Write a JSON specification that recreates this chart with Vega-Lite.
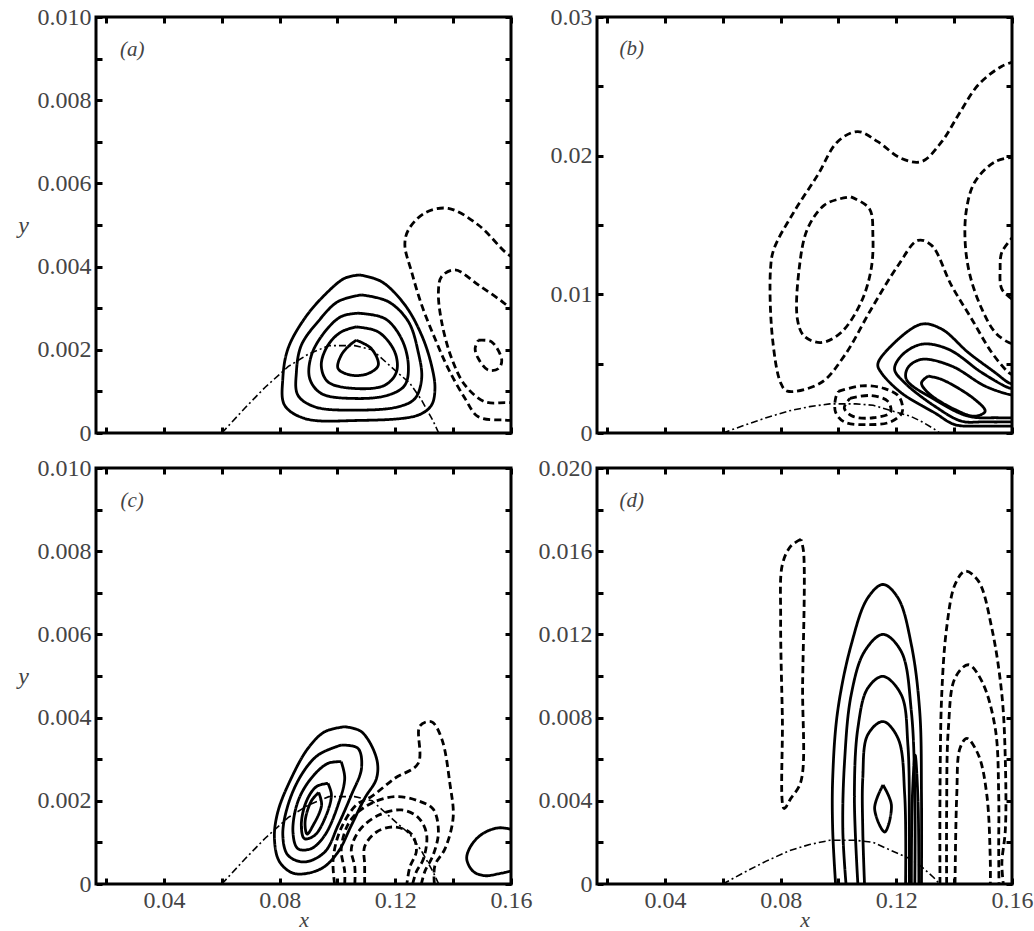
{
 "$schema": "https://vega.github.io/schema/vega-lite/v6.json",
 "background": "white",
 "padding": {"left": 16, "top": 3, "right": 4, "bottom": 0},
 "config": {
  "view": {"stroke": "black", "strokeWidth": 3},
  "axis": {"domain": false, "grid": false, "tickColor": "black", "tickWidth": 3, "tickSize": -6, "labelFont": "Liberation Serif", "labelFontSize": 24, "labelColor": "#444", "labelPadding": 10, "labelOverlap": false, "labelFlush": false, "labelBound": false, "titleFont": "Liberation Serif", "titleFontSize": 24, "titleFontStyle": "italic", "titleFontWeight": "normal", "titleColor": "#444"},
  "axisLeft": {"labelPadding": 11}
 },
 "datasets": {
  "hump": [
   {"x":0.06,"y":0},{"x":0.068,"y":0.0006},{"x":0.075,"y":0.0011},{"x":0.083,"y":0.0016},{"x":0.09,"y":0.0019},{"x":0.097,"y":0.0021},{"x":0.106,"y":0.0021},{"x":0.112,"y":0.002},{"x":0.12,"y":0.0015},{"x":0.125,"y":0.0012},{"x":0.129,"y":0.0008},{"x":0.133,"y":0.0003},{"x":0.135,"y":0}
  ],
  "a": [
   {"c":"a1","s":"S","x":0.1077,"y":0.0038},{"c":"a1","s":"S","x":0.1152,"y":0.00364},{"c":"a1","s":"S","x":0.1233,"y":0.00308},{"c":"a1","s":"S","x":0.1291,"y":0.00235},{"c":"a1","s":"S","x":0.1325,"y":0.00163},{"c":"a1","s":"S","x":0.1337,"y":0.00107},{"c":"a1","s":"S","x":0.1325,"y":0.00067},{"c":"a1","s":"S","x":0.1279,"y":0.00043},{"c":"a1","s":"S","x":0.106,"y":0.0003},{"c":"a1","s":"S","x":0.0886,"y":0.00035},{"c":"a1","s":"S","x":0.0817,"y":0.00067},{"c":"a1","s":"S","x":0.0811,"y":0.00131},{"c":"a1","s":"S","x":0.0829,"y":0.00203},{"c":"a1","s":"S","x":0.0886,"y":0.00275},{"c":"a1","s":"S","x":0.0956,"y":0.00332},{"c":"a1","s":"S","x":0.1025,"y":0.00372},{"c":"a1","s":"S","x":0.1077,"y":0.0038},
   {"c":"a2","s":"S","x":0.1083,"y":0.00332},{"c":"a2","s":"S","x":0.1175,"y":0.00316},{"c":"a2","s":"S","x":0.1245,"y":0.00268},{"c":"a2","s":"S","x":0.1279,"y":0.00195},{"c":"a2","s":"S","x":0.1291,"y":0.00131},{"c":"a2","s":"S","x":0.1268,"y":0.00083},{"c":"a2","s":"S","x":0.121,"y":0.00063},{"c":"a2","s":"S","x":0.106,"y":0.00055},{"c":"a2","s":"S","x":0.0921,"y":0.00063},{"c":"a2","s":"S","x":0.0863,"y":0.00091},{"c":"a2","s":"S","x":0.0858,"y":0.00147},{"c":"a2","s":"S","x":0.0875,"y":0.00211},{"c":"a2","s":"S","x":0.0933,"y":0.00268},{"c":"a2","s":"S","x":0.1002,"y":0.00316},{"c":"a2","s":"S","x":0.1083,"y":0.00332},
   {"c":"a3","s":"S","x":0.1071,"y":0.00288},{"c":"a3","s":"S","x":0.1164,"y":0.00275},{"c":"a3","s":"S","x":0.1221,"y":0.00227},{"c":"a3","s":"S","x":0.1245,"y":0.00163},{"c":"a3","s":"S","x":0.1233,"y":0.00115},{"c":"a3","s":"S","x":0.1175,"y":0.00091},{"c":"a3","s":"S","x":0.106,"y":0.00083},{"c":"a3","s":"S","x":0.0944,"y":0.00095},{"c":"a3","s":"S","x":0.0904,"y":0.00131},{"c":"a3","s":"S","x":0.091,"y":0.00187},{"c":"a3","s":"S","x":0.0956,"y":0.00243},{"c":"a3","s":"S","x":0.1013,"y":0.0028},{"c":"a3","s":"S","x":0.1071,"y":0.00288},
   {"c":"a4","s":"S","x":0.1065,"y":0.00255},{"c":"a4","s":"S","x":0.1141,"y":0.00243},{"c":"a4","s":"S","x":0.1198,"y":0.00195},{"c":"a4","s":"S","x":0.1204,"y":0.00147},{"c":"a4","s":"S","x":0.1164,"y":0.00115},{"c":"a4","s":"S","x":0.106,"y":0.00107},{"c":"a4","s":"S","x":0.0967,"y":0.00123},{"c":"a4","s":"S","x":0.0944,"y":0.00163},{"c":"a4","s":"S","x":0.0967,"y":0.00211},{"c":"a4","s":"S","x":0.1013,"y":0.00243},{"c":"a4","s":"S","x":0.1065,"y":0.00255},
   {"c":"a5","s":"S","x":0.1065,"y":0.00223},{"c":"a5","s":"S","x":0.1117,"y":0.00203},{"c":"a5","s":"S","x":0.1141,"y":0.00163},{"c":"a5","s":"S","x":0.1106,"y":0.00143},{"c":"a5","s":"S","x":0.1048,"y":0.00139},{"c":"a5","s":"S","x":0.1002,"y":0.00155},{"c":"a5","s":"S","x":0.1013,"y":0.00187},{"c":"a5","s":"S","x":0.1042,"y":0.00211},{"c":"a5","s":"S","x":0.1065,"y":0.00223},
   {"c":"a6","s":"D","x":0.161,"y":0.0042},{"c":"a6","s":"D","x":0.158,"y":0.00435},{"c":"a6","s":"D","x":0.1487,"y":0.005},{"c":"a6","s":"D","x":0.1383,"y":0.0054},{"c":"a6","s":"D","x":0.1302,"y":0.00529},{"c":"a6","s":"D","x":0.1245,"y":0.00488},{"c":"a6","s":"D","x":0.1233,"y":0.00452},{"c":"a6","s":"D","x":0.1256,"y":0.00388},{"c":"a6","s":"D","x":0.1291,"y":0.00308},{"c":"a6","s":"D","x":0.1337,"y":0.00227},{"c":"a6","s":"D","x":0.1383,"y":0.00155},{"c":"a6","s":"D","x":0.1441,"y":0.00083},{"c":"a6","s":"D","x":0.1487,"y":0.00039},{"c":"a6","s":"D","x":0.158,"y":0.00031},{"c":"a6","s":"D","x":0.161,"y":0.0003},
   {"c":"a7","s":"D","x":0.161,"y":0.0029},{"c":"a7","s":"D","x":0.158,"y":0.0031},{"c":"a7","s":"D","x":0.1487,"y":0.00356},{"c":"a7","s":"D","x":0.1406,"y":0.00392},{"c":"a7","s":"D","x":0.136,"y":0.00376},{"c":"a7","s":"D","x":0.1349,"y":0.0034},{"c":"a7","s":"D","x":0.136,"y":0.00268},{"c":"a7","s":"D","x":0.1395,"y":0.00179},{"c":"a7","s":"D","x":0.1441,"y":0.00115},{"c":"a7","s":"D","x":0.151,"y":0.00075},{"c":"a7","s":"D","x":0.158,"y":0.00073},{"c":"a7","s":"D","x":0.161,"y":0.00073},
   {"c":"a8","s":"D","x":0.1487,"y":0.00223},{"c":"a8","s":"D","x":0.1533,"y":0.00219},{"c":"a8","s":"D","x":0.1568,"y":0.00175},{"c":"a8","s":"D","x":0.1557,"y":0.00155},{"c":"a8","s":"D","x":0.1522,"y":0.00151},{"c":"a8","s":"D","x":0.1487,"y":0.00179},{"c":"a8","s":"D","x":0.1476,"y":0.00203},{"c":"a8","s":"D","x":0.1487,"y":0.00223}
  ],
  "b": [
   {"c":"b1","s":"D","x":0.161,"y":0.0268},{"c":"b1","s":"D","x":0.1565,"y":0.02645},{"c":"b1","s":"D","x":0.1484,"y":0.02512},{"c":"b1","s":"D","x":0.1415,"y":0.02295},{"c":"b1","s":"D","x":0.1357,"y":0.02101},{"c":"b1","s":"D","x":0.1287,"y":0.01957},{"c":"b1","s":"D","x":0.1217,"y":0.0198},{"c":"b1","s":"D","x":0.1136,"y":0.02101},{"c":"b1","s":"D","x":0.1067,"y":0.02174},{"c":"b1","s":"D","x":0.0997,"y":0.02101},{"c":"b1","s":"D","x":0.0928,"y":0.0186},{"c":"b1","s":"D","x":0.0846,"y":0.01594},{"c":"b1","s":"D","x":0.0777,"y":0.01328},{"c":"b1","s":"D","x":0.0765,"y":0.01183},{"c":"b1","s":"D","x":0.0771,"y":0.007},{"c":"b1","s":"D","x":0.08,"y":0.00362},{"c":"b1","s":"D","x":0.0823,"y":0.00302},{"c":"b1","s":"D","x":0.0939,"y":0.00362},{"c":"b1","s":"D","x":0.102,"y":0.00556},{"c":"b1","s":"D","x":0.1113,"y":0.00893},{"c":"b1","s":"D","x":0.1206,"y":0.01208},{"c":"b1","s":"D","x":0.1275,"y":0.01389},{"c":"b1","s":"D","x":0.1322,"y":0.01353},{"c":"b1","s":"D","x":0.1391,"y":0.01063},{"c":"b1","s":"D","x":0.1461,"y":0.00821},{"c":"b1","s":"D","x":0.153,"y":0.0058},{"c":"b1","s":"D","x":0.1589,"y":0.00435},{"c":"b1","s":"D","x":0.161,"y":0.0041},
   {"c":"b2","s":"D","x":0.1043,"y":0.01703},{"c":"b2","s":"D","x":0.1107,"y":0.01618},{"c":"b2","s":"D","x":0.1119,"y":0.01425},{"c":"b2","s":"D","x":0.1113,"y":0.01183},{"c":"b2","s":"D","x":0.1078,"y":0.00942},{"c":"b2","s":"D","x":0.1009,"y":0.00725},{"c":"b2","s":"D","x":0.0939,"y":0.00652},{"c":"b2","s":"D","x":0.0881,"y":0.007},{"c":"b2","s":"D","x":0.0858,"y":0.00821},{"c":"b2","s":"D","x":0.0864,"y":0.01183},{"c":"b2","s":"D","x":0.0893,"y":0.01473},{"c":"b2","s":"D","x":0.0951,"y":0.01643},{"c":"b2","s":"D","x":0.1009,"y":0.01691},{"c":"b2","s":"D","x":0.1043,"y":0.01703},
   {"c":"b3","s":"D","x":0.161,"y":0.0199},{"c":"b3","s":"D","x":0.1542,"y":0.01957},{"c":"b3","s":"D","x":0.1472,"y":0.01812},{"c":"b3","s":"D","x":0.1443,"y":0.01618},{"c":"b3","s":"D","x":0.1438,"y":0.01377},{"c":"b3","s":"D","x":0.1455,"y":0.01135},{"c":"b3","s":"D","x":0.1496,"y":0.00893},{"c":"b3","s":"D","x":0.1542,"y":0.00725},{"c":"b3","s":"D","x":0.1589,"y":0.00652},{"c":"b3","s":"D","x":0.161,"y":0.0064},
   {"c":"b4","s":"D","x":0.161,"y":0.0143},{"c":"b4","s":"D","x":0.1565,"y":0.01304},{"c":"b4","s":"D","x":0.1559,"y":0.01183},{"c":"b4","s":"D","x":0.1565,"y":0.01038},{"c":"b4","s":"D","x":0.161,"y":0.0095},
   {"c":"b5","s":"S","x":0.161,"y":0.0035},{"c":"b5","s":"S","x":0.1589,"y":0.00362},{"c":"b5","s":"S","x":0.1542,"y":0.00435},{"c":"b5","s":"S","x":0.1449,"y":0.0058},{"c":"b5","s":"S","x":0.1357,"y":0.00749},{"c":"b5","s":"S","x":0.1287,"y":0.00785},{"c":"b5","s":"S","x":0.1171,"y":0.00604},{"c":"b5","s":"S","x":0.1136,"y":0.00495},{"c":"b5","s":"S","x":0.1148,"y":0.00435},{"c":"b5","s":"S","x":0.1217,"y":0.0029},{"c":"b5","s":"S","x":0.1333,"y":0.00145},{"c":"b5","s":"S","x":0.1403,"y":0.0006},{"c":"b5","s":"S","x":0.15,"y":0.0005},{"c":"b5","s":"S","x":0.161,"y":0.0005},
   {"c":"b6","s":"S","x":0.161,"y":0.0032},{"c":"b6","s":"S","x":0.1589,"y":0.00326},{"c":"b6","s":"S","x":0.1496,"y":0.00435},{"c":"b6","s":"S","x":0.138,"y":0.00604},{"c":"b6","s":"S","x":0.1287,"y":0.0064},{"c":"b6","s":"S","x":0.1217,"y":0.00556},{"c":"b6","s":"S","x":0.1194,"y":0.00459},{"c":"b6","s":"S","x":0.1229,"y":0.00362},{"c":"b6","s":"S","x":0.1333,"y":0.00193},{"c":"b6","s":"S","x":0.1426,"y":0.00085},{"c":"b6","s":"S","x":0.15,"y":0.0008},{"c":"b6","s":"S","x":0.161,"y":0.0008},
   {"c":"b7","s":"S","x":0.161,"y":0.0027},{"c":"b7","s":"S","x":0.1589,"y":0.00278},{"c":"b7","s":"S","x":0.1507,"y":0.00338},{"c":"b7","s":"S","x":0.1391,"y":0.00483},{"c":"b7","s":"S","x":0.1287,"y":0.00531},{"c":"b7","s":"S","x":0.124,"y":0.00471},{"c":"b7","s":"S","x":0.1235,"y":0.00386},{"c":"b7","s":"S","x":0.1333,"y":0.00241},{"c":"b7","s":"S","x":0.1449,"y":0.00121},{"c":"b7","s":"S","x":0.155,"y":0.0011},{"c":"b7","s":"S","x":0.161,"y":0.0011},
   {"c":"b8","s":"S","x":0.131,"y":0.0041},{"c":"b8","s":"S","x":0.1357,"y":0.00386},{"c":"b8","s":"S","x":0.1472,"y":0.00241},{"c":"b8","s":"S","x":0.1507,"y":0.00157},{"c":"b8","s":"S","x":0.1472,"y":0.00121},{"c":"b8","s":"S","x":0.1403,"y":0.00169},{"c":"b8","s":"S","x":0.131,"y":0.0029},{"c":"b8","s":"S","x":0.1287,"y":0.00362},{"c":"b8","s":"S","x":0.131,"y":0.0041},
   {"c":"b9","s":"D","x":0.1,"y":0.003},{"c":"b9","s":"D","x":0.108,"y":0.0034},{"c":"b9","s":"D","x":0.116,"y":0.0032},{"c":"b9","s":"D","x":0.121,"y":0.0026},{"c":"b9","s":"D","x":0.122,"y":0.0015},{"c":"b9","s":"D","x":0.118,"y":0.0008},{"c":"b9","s":"D","x":0.11,"y":0.0006},{"c":"b9","s":"D","x":0.102,"y":0.0008},{"c":"b9","s":"D","x":0.099,"y":0.0015},{"c":"b9","s":"D","x":0.099,"y":0.0025},{"c":"b9","s":"D","x":0.1,"y":0.003},
   {"c":"b10","s":"D","x":0.104,"y":0.0025},{"c":"b10","s":"D","x":0.111,"y":0.0027},{"c":"b10","s":"D","x":0.117,"y":0.0023},{"c":"b10","s":"D","x":0.118,"y":0.0015},{"c":"b10","s":"D","x":0.112,"y":0.0011},{"c":"b10","s":"D","x":0.105,"y":0.0012},{"c":"b10","s":"D","x":0.102,"y":0.0018},{"c":"b10","s":"D","x":0.104,"y":0.0025}
  ],
  "c": [
   {"c":"c1","s":"S","x":0.1025,"y":0.00378},{"c":"c1","s":"S","x":0.1083,"y":0.00366},{"c":"c1","s":"S","x":0.1135,"y":0.00302},{"c":"c1","s":"S","x":0.1135,"y":0.00254},{"c":"c1","s":"S","x":0.1094,"y":0.00206},{"c":"c1","s":"S","x":0.1048,"y":0.00141},{"c":"c1","s":"S","x":0.1002,"y":0.00077},{"c":"c1","s":"S","x":0.0944,"y":0.00037},{"c":"c1","s":"S","x":0.0852,"y":0.00025},{"c":"c1","s":"S","x":0.08,"y":0.00053},{"c":"c1","s":"S","x":0.0782,"y":0.00109},{"c":"c1","s":"S","x":0.0794,"y":0.00174},{"c":"c1","s":"S","x":0.084,"y":0.00254},{"c":"c1","s":"S","x":0.0898,"y":0.00326},{"c":"c1","s":"S","x":0.0956,"y":0.00366},{"c":"c1","s":"S","x":0.1025,"y":0.00378},
   {"c":"c2","s":"S","x":0.1013,"y":0.00334},{"c":"c2","s":"S","x":0.1071,"y":0.00326},{"c":"c2","s":"S","x":0.1083,"y":0.00278},{"c":"c2","s":"S","x":0.1048,"y":0.00214},{"c":"c2","s":"S","x":0.1002,"y":0.00141},{"c":"c2","s":"S","x":0.0956,"y":0.00077},{"c":"c2","s":"S","x":0.0886,"y":0.00053},{"c":"c2","s":"S","x":0.0829,"y":0.00069},{"c":"c2","s":"S","x":0.0811,"y":0.00117},{"c":"c2","s":"S","x":0.0829,"y":0.0019},{"c":"c2","s":"S","x":0.0875,"y":0.00262},{"c":"c2","s":"S","x":0.0933,"y":0.0031},{"c":"c2","s":"S","x":0.1013,"y":0.00334},
   {"c":"c3","s":"S","x":0.1013,"y":0.00294},{"c":"c3","s":"S","x":0.1025,"y":0.00254},{"c":"c3","s":"S","x":0.1002,"y":0.0019},{"c":"c3","s":"S","x":0.0956,"y":0.00117},{"c":"c3","s":"S","x":0.0909,"y":0.00085},{"c":"c3","s":"S","x":0.0863,"y":0.00085},{"c":"c3","s":"S","x":0.0846,"y":0.00125},{"c":"c3","s":"S","x":0.0863,"y":0.00198},{"c":"c3","s":"S","x":0.0909,"y":0.00254},{"c":"c3","s":"S","x":0.0967,"y":0.0029},{"c":"c3","s":"S","x":0.1013,"y":0.00294},
   {"c":"c4","s":"S","x":0.0967,"y":0.00242},{"c":"c4","s":"S","x":0.0979,"y":0.00214},{"c":"c4","s":"S","x":0.0956,"y":0.00157},{"c":"c4","s":"S","x":0.0921,"y":0.00117},{"c":"c4","s":"S","x":0.0886,"y":0.00109},{"c":"c4","s":"S","x":0.0875,"y":0.00141},{"c":"c4","s":"S","x":0.0892,"y":0.00198},{"c":"c4","s":"S","x":0.0927,"y":0.00234},{"c":"c4","s":"S","x":0.0967,"y":0.00242},
   {"c":"c5","s":"S","x":0.0935,"y":0.0022},{"c":"c5","s":"S","x":0.0945,"y":0.0019},{"c":"c5","s":"S","x":0.0915,"y":0.0014},{"c":"c5","s":"S","x":0.0895,"y":0.0012},{"c":"c5","s":"S","x":0.0888,"y":0.0015},{"c":"c5","s":"S","x":0.091,"y":0.002},{"c":"c5","s":"S","x":0.0935,"y":0.0022},
   {"c":"c6","s":"S","x":0.161,"y":0.0013},{"c":"c6","s":"S","x":0.1557,"y":0.00135},{"c":"c6","s":"S","x":0.15,"y":0.0012},{"c":"c6","s":"S","x":0.146,"y":0.0009},{"c":"c6","s":"S","x":0.1447,"y":0.0006},{"c":"c6","s":"S","x":0.147,"y":0.0003},{"c":"c6","s":"S","x":0.151,"y":0.0002},{"c":"c6","s":"S","x":0.156,"y":0.00025},{"c":"c6","s":"S","x":0.161,"y":0.00033},
   {"c":"c7","s":"D","x":0.099,"y":0},{"c":"c7","s":"D","x":0.0985,"y":0.0006},{"c":"c7","s":"D","x":0.101,"y":0.0013},{"c":"c7","s":"D","x":0.1065,"y":0.0019},{"c":"c7","s":"D","x":0.1117,"y":0.0021},{"c":"c7","s":"D","x":0.1198,"y":0.00254},{"c":"c7","s":"D","x":0.1279,"y":0.0029},{"c":"c7","s":"D","x":0.1285,"y":0.0038},{"c":"c7","s":"D","x":0.1325,"y":0.0039},{"c":"c7","s":"D","x":0.136,"y":0.0035},{"c":"c7","s":"D","x":0.1389,"y":0.0024},{"c":"c7","s":"D","x":0.14,"y":0.0016},{"c":"c7","s":"D","x":0.1372,"y":0.00085},{"c":"c7","s":"D","x":0.1337,"y":0.00045},{"c":"c7","s":"D","x":0.1335,"y":0},
   {"c":"c8","s":"D","x":0.1025,"y":0},{"c":"c8","s":"D","x":0.1025,"y":0.0003},{"c":"c8","s":"D","x":0.1013,"y":0.00085},{"c":"c8","s":"D","x":0.1042,"y":0.0015},{"c":"c8","s":"D","x":0.1106,"y":0.0019},{"c":"c8","s":"D","x":0.1198,"y":0.0021},{"c":"c8","s":"D","x":0.1279,"y":0.002},{"c":"c8","s":"D","x":0.1331,"y":0.0018},{"c":"c8","s":"D","x":0.1349,"y":0.00125},{"c":"c8","s":"D","x":0.1331,"y":0.0007},{"c":"c8","s":"D","x":0.1302,"y":0.0003},{"c":"c8","s":"D","x":0.129,"y":0},
   {"c":"c9","s":"D","x":0.106,"y":0},{"c":"c9","s":"D","x":0.106,"y":0.0004},{"c":"c9","s":"D","x":0.1048,"y":0.00085},{"c":"c9","s":"D","x":0.1077,"y":0.0013},{"c":"c9","s":"D","x":0.1141,"y":0.00165},{"c":"c9","s":"D","x":0.1221,"y":0.00178},{"c":"c9","s":"D","x":0.1279,"y":0.0016},{"c":"c9","s":"D","x":0.1308,"y":0.0012},{"c":"c9","s":"D","x":0.1297,"y":0.0006},{"c":"c9","s":"D","x":0.1273,"y":0.0003},{"c":"c9","s":"D","x":0.126,"y":0},
   {"c":"c10","s":"D","x":0.1094,"y":0},{"c":"c10","s":"D","x":0.1094,"y":0.00045},{"c":"c10","s":"D","x":0.1094,"y":0.0009},{"c":"c10","s":"D","x":0.1135,"y":0.00125},{"c":"c10","s":"D","x":0.1198,"y":0.00137},{"c":"c10","s":"D","x":0.1256,"y":0.0012},{"c":"c10","s":"D","x":0.1273,"y":0.0008},{"c":"c10","s":"D","x":0.125,"y":0.0004},{"c":"c10","s":"D","x":0.124,"y":0}
  ],
  "d": [
   {"c":"d1","s":"D","x":0.087,"y":0.01657},{"c":"d1","s":"D","x":0.0835,"y":0.01624},{"c":"d1","s":"D","x":0.0806,"y":0.01536},{"c":"d1","s":"D","x":0.08,"y":0.01279},{"c":"d1","s":"D","x":0.0806,"y":0.00797},{"c":"d1","s":"D","x":0.0812,"y":0.00363},{"c":"d1","s":"D","x":0.0835,"y":0.00411},{"c":"d1","s":"D","x":0.087,"y":0.00492},{"c":"d1","s":"D","x":0.0876,"y":0.00958},{"c":"d1","s":"D","x":0.0879,"y":0.016},{"c":"d1","s":"D","x":0.087,"y":0.01657},
   {"c":"d2","s":"S","x":0.099,"y":0},{"c":"d2","s":"S","x":0.098,"y":0.0026},{"c":"d2","s":"S","x":0.098,"y":0.00508},{"c":"d2","s":"S","x":0.0997,"y":0.00829},{"c":"d2","s":"S","x":0.1044,"y":0.0115},{"c":"d2","s":"S","x":0.1101,"y":0.01375},{"c":"d2","s":"S","x":0.1154,"y":0.0144},{"c":"d2","s":"S","x":0.1206,"y":0.01375},{"c":"d2","s":"S","x":0.1252,"y":0.0115},{"c":"d2","s":"S","x":0.1281,"y":0.00829},{"c":"d2","s":"S","x":0.1287,"y":0.00428},{"c":"d2","s":"S","x":0.1287,"y":0},
   {"c":"d3","s":"S","x":0.1026,"y":0},{"c":"d3","s":"S","x":0.1015,"y":0.0026},{"c":"d3","s":"S","x":0.1021,"y":0.00588},{"c":"d3","s":"S","x":0.1044,"y":0.0091},{"c":"d3","s":"S","x":0.109,"y":0.01118},{"c":"d3","s":"S","x":0.1154,"y":0.012},{"c":"d3","s":"S","x":0.1217,"y":0.01118},{"c":"d3","s":"S","x":0.1252,"y":0.00829},{"c":"d3","s":"S","x":0.1264,"y":0.00428},{"c":"d3","s":"S","x":0.1264,"y":0},
   {"c":"d4","s":"S","x":0.1067,"y":0},{"c":"d4","s":"S","x":0.1055,"y":0.00428},{"c":"d4","s":"S","x":0.1067,"y":0.00749},{"c":"d4","s":"S","x":0.1101,"y":0.00941},{"c":"d4","s":"S","x":0.1154,"y":0.00998},{"c":"d4","s":"S","x":0.1217,"y":0.0091},{"c":"d4","s":"S","x":0.124,"y":0.00669},{"c":"d4","s":"S","x":0.1245,"y":0.0026},{"c":"d4","s":"S","x":0.1245,"y":0},
   {"c":"d5","s":"S","x":0.109,"y":0},{"c":"d5","s":"S","x":0.1084,"y":0.0026},{"c":"d5","s":"S","x":0.1084,"y":0.00508},{"c":"d5","s":"S","x":0.1101,"y":0.00717},{"c":"d5","s":"S","x":0.1154,"y":0.00781},{"c":"d5","s":"S","x":0.1206,"y":0.007},{"c":"d5","s":"S","x":0.1229,"y":0.00428},{"c":"d5","s":"S","x":0.1232,"y":0},
   {"c":"d6","s":"S","x":0.1154,"y":0.00476},{"c":"d6","s":"S","x":0.1183,"y":0.00379},{"c":"d6","s":"S","x":0.116,"y":0.0025},{"c":"d6","s":"S","x":0.1125,"y":0.00363},{"c":"d6","s":"S","x":0.1154,"y":0.00476},
   {"c":"d7","s":"S","x":0.1252,"y":0},{"c":"d7","s":"S","x":0.1255,"y":0.004},{"c":"d7","s":"S","x":0.1265,"y":0.0062},{"c":"d7","s":"S","x":0.1275,"y":0.004},{"c":"d7","s":"S","x":0.1278,"y":0},
   {"c":"d8","s":"D","x":0.1351,"y":0},{"c":"d8","s":"D","x":0.1351,"y":0.00428},{"c":"d8","s":"D","x":0.1357,"y":0.0091},{"c":"d8","s":"D","x":0.1374,"y":0.01231},{"c":"d8","s":"D","x":0.1403,"y":0.0144},{"c":"d8","s":"D","x":0.1438,"y":0.01504},{"c":"d8","s":"D","x":0.1484,"y":0.01456},{"c":"d8","s":"D","x":0.153,"y":0.01231},{"c":"d8","s":"D","x":0.1565,"y":0.0091},{"c":"d8","s":"D","x":0.1577,"y":0.00588},{"c":"d8","s":"D","x":0.1577,"y":0.0026},{"c":"d8","s":"D","x":0.1565,"y":0.001},{"c":"d8","s":"D","x":0.157,"y":0},
   {"c":"d9","s":"D","x":0.1374,"y":0},{"c":"d9","s":"D","x":0.1374,"y":0.00347},{"c":"d9","s":"D","x":0.138,"y":0.00749},{"c":"d9","s":"D","x":0.1403,"y":0.0099},{"c":"d9","s":"D","x":0.1449,"y":0.01054},{"c":"d9","s":"D","x":0.1496,"y":0.00974},{"c":"d9","s":"D","x":0.1542,"y":0.00749},{"c":"d9","s":"D","x":0.1554,"y":0.00428},{"c":"d9","s":"D","x":0.1554,"y":0.0017},{"c":"d9","s":"D","x":0.1555,"y":0},
   {"c":"d10","s":"D","x":0.1403,"y":0},{"c":"d10","s":"D","x":0.1409,"y":0.00428},{"c":"d10","s":"D","x":0.142,"y":0.00652},{"c":"d10","s":"D","x":0.1444,"y":0.007},{"c":"d10","s":"D","x":0.1484,"y":0.0062},{"c":"d10","s":"D","x":0.1513,"y":0.00428},{"c":"d10","s":"D","x":0.1525,"y":0.00106},{"c":"d10","s":"D","x":0.1525,"y":0}
  ]
 },
 "columns": 2,
 "spacing": {"row": 35, "column": 86},
 "bounds": "flush",
 "concat": [
   {"width": 415, "height": 416,
    "resolve": {"axis": {"x": "independent", "y": "independent"}},
    "layer": [
     {"data": {"name": "a"},
      "mark": {"type": "line", "clip": true, "interpolate": "catmull-rom", "strokeWidth": 2.8, "color": "black"},
      "encoding": {
       "x": {"field": "x", "type": "quantitative", "scale": {"domain": [0.0165, 0.16], "nice": false, "zero": false}, "axis": {"orient": "bottom", "values": [0.02,0.04,0.06,0.08,0.1,0.12,0.14,0.16], "labels": false, "title": null}},
       "y": {"field": "y", "type": "quantitative", "scale": {"domain": [0, 0.01], "nice": false}, "axis": {"orient": "left", "values": [0,0.001,0.002,0.003,0.004,0.005,0.006,0.007,0.008,0.009,0.01], "labelExpr": "datum.value == 0 ? '0' : (round(datum.value*1000) % 2 == 0 ? format(datum.value, '.3f') : '')", "title": "y", "titleAngle": 0, "titleAlign": "center", "titleBaseline": "middle", "titlePadding": 14}},
       "detail": {"field": "c", "type": "nominal"},
       "order": {"value": null},
       "strokeDash": {"field": "s", "type": "nominal", "scale": {"domain": ["S", "D"], "range": [[1, 0], [7, 4]]}, "legend": null}
      }},
     {"data": {"name": "hump"},
      "mark": {"type": "line", "clip": true, "strokeWidth": 1.6, "strokeDash": [7, 3, 2, 3], "color": "black"},
      "encoding": {
       "x": {"field": "x", "type": "quantitative", "axis": {"orient": "top", "values": [0.02,0.04,0.06,0.08,0.1,0.12,0.14,0.16], "labels": false, "title": null}},
       "y": {"field": "y", "type": "quantitative", "axis": {"orient": "right", "values": [0,0.001,0.002,0.003,0.004,0.005,0.006,0.007,0.008,0.009,0.01], "labels": false, "title": null}},
       "order": {"value": null}
      }},
     {"data": {"values": [{"x": 0.029, "y": 0.0092, "t": "(a)"}]},
      "mark": {"type": "text", "font": "Liberation Serif", "fontSize": 21, "fontStyle": "italic", "color": "#444"},
      "encoding": {"x": {"field": "x", "type": "quantitative", "axis": null}, "y": {"field": "y", "type": "quantitative", "axis": null}, "text": {"field": "t"}}}
    ]},
   {"width": 415, "height": 416,
    "resolve": {"axis": {"x": "independent", "y": "independent"}},
    "layer": [
     {"data": {"name": "b"},
      "mark": {"type": "line", "clip": true, "interpolate": "catmull-rom", "strokeWidth": 2.8, "color": "black"},
      "encoding": {
       "x": {"field": "x", "type": "quantitative", "scale": {"domain": [0.0165, 0.16], "nice": false, "zero": false}, "axis": {"orient": "bottom", "values": [0.02,0.04,0.06,0.08,0.1,0.12,0.14,0.16], "labels": false, "title": null}},
       "y": {"field": "y", "type": "quantitative", "scale": {"domain": [0, 0.03], "nice": false}, "axis": {"orient": "left", "values": [0,0.005,0.01,0.015,0.02,0.025,0.03], "labelExpr": "datum.value == 0 ? '0' : (round(datum.value*1000) % 10 == 0 ? format(datum.value, '.2f') : '')", "title": null}},
       "detail": {"field": "c", "type": "nominal"},
       "order": {"value": null},
       "strokeDash": {"field": "s", "type": "nominal", "scale": {"domain": ["S", "D"], "range": [[1, 0], [7, 4]]}, "legend": null}
      }},
     {"data": {"name": "hump"},
      "mark": {"type": "line", "clip": true, "strokeWidth": 1.6, "strokeDash": [7, 3, 2, 3], "color": "black"},
      "encoding": {
       "x": {"field": "x", "type": "quantitative", "axis": {"orient": "top", "values": [0.02,0.04,0.06,0.08,0.1,0.12,0.14,0.16], "labels": false, "title": null}},
       "y": {"field": "y", "type": "quantitative", "axis": {"orient": "right", "values": [0,0.005,0.01,0.015,0.02,0.025,0.03], "labels": false, "title": null}},
       "order": {"value": null}
      }},
     {"data": {"values": [{"x": 0.0285, "y": 0.0277, "t": "(b)"}]},
      "mark": {"type": "text", "font": "Liberation Serif", "fontSize": 21, "fontStyle": "italic", "color": "#444"},
      "encoding": {"x": {"field": "x", "type": "quantitative", "axis": null}, "y": {"field": "y", "type": "quantitative", "axis": null}, "text": {"field": "t"}}}
    ]},
   {"width": 415, "height": 416,
    "resolve": {"axis": {"x": "independent", "y": "independent"}},
    "layer": [
     {"data": {"name": "c"},
      "mark": {"type": "line", "clip": true, "interpolate": "catmull-rom", "strokeWidth": 2.8, "color": "black"},
      "encoding": {
       "x": {"field": "x", "type": "quantitative", "scale": {"domain": [0.0165, 0.16], "nice": false, "zero": false}, "axis": {"orient": "bottom", "values": [0.02,0.04,0.06,0.08,0.1,0.12,0.14,0.16], "labelExpr": "round(datum.value*100) % 4 == 0 ? format(datum.value, '.2f') : ''", "title": "x", "titlePadding": -3, "titleFontSize": 22}},
       "y": {"field": "y", "type": "quantitative", "scale": {"domain": [0, 0.01], "nice": false}, "axis": {"orient": "left", "values": [0,0.001,0.002,0.003,0.004,0.005,0.006,0.007,0.008,0.009,0.01], "labelExpr": "datum.value == 0 ? '0' : (round(datum.value*1000) % 2 == 0 ? format(datum.value, '.3f') : '')", "title": "y", "titleAngle": 0, "titleAlign": "center", "titleBaseline": "middle", "titlePadding": 14}},
       "detail": {"field": "c", "type": "nominal"},
       "order": {"value": null},
       "strokeDash": {"field": "s", "type": "nominal", "scale": {"domain": ["S", "D"], "range": [[1, 0], [7, 4]]}, "legend": null}
      }},
     {"data": {"name": "hump"},
      "mark": {"type": "line", "clip": true, "strokeWidth": 1.6, "strokeDash": [7, 3, 2, 3], "color": "black"},
      "encoding": {
       "x": {"field": "x", "type": "quantitative", "axis": {"orient": "top", "values": [0.02,0.04,0.06,0.08,0.1,0.12,0.14,0.16], "labels": false, "title": null}},
       "y": {"field": "y", "type": "quantitative", "axis": {"orient": "right", "values": [0,0.001,0.002,0.003,0.004,0.005,0.006,0.007,0.008,0.009,0.01], "labels": false, "title": null}},
       "order": {"value": null}
      }},
     {"data": {"values": [{"x": 0.029, "y": 0.0092, "t": "(c)"}]},
      "mark": {"type": "text", "font": "Liberation Serif", "fontSize": 21, "fontStyle": "italic", "color": "#444"},
      "encoding": {"x": {"field": "x", "type": "quantitative", "axis": null}, "y": {"field": "y", "type": "quantitative", "axis": null}, "text": {"field": "t"}}}
    ]},
   {"width": 415, "height": 416,
    "resolve": {"axis": {"x": "independent", "y": "independent"}},
    "layer": [
     {"data": {"name": "d"},
      "mark": {"type": "line", "clip": true, "interpolate": "catmull-rom", "strokeWidth": 2.8, "color": "black"},
      "encoding": {
       "x": {"field": "x", "type": "quantitative", "scale": {"domain": [0.0165, 0.16], "nice": false, "zero": false}, "axis": {"orient": "bottom", "values": [0.02,0.04,0.06,0.08,0.1,0.12,0.14,0.16], "labelExpr": "round(datum.value*100) % 4 == 0 ? format(datum.value, '.2f') : ''", "title": "x", "titlePadding": -3, "titleFontSize": 22}},
       "y": {"field": "y", "type": "quantitative", "scale": {"domain": [0, 0.02], "nice": false}, "axis": {"orient": "left", "values": [0,0.002,0.004,0.006,0.008,0.01,0.012,0.014,0.016,0.018,0.02], "labelExpr": "datum.value == 0 ? '0' : (round(datum.value*1000) % 4 == 0 ? format(datum.value, '.3f') : '')", "title": null}},
       "detail": {"field": "c", "type": "nominal"},
       "order": {"value": null},
       "strokeDash": {"field": "s", "type": "nominal", "scale": {"domain": ["S", "D"], "range": [[1, 0], [7, 4]]}, "legend": null}
      }},
     {"data": {"name": "hump"},
      "mark": {"type": "line", "clip": true, "strokeWidth": 1.6, "strokeDash": [7, 3, 2, 3], "color": "black"},
      "encoding": {
       "x": {"field": "x", "type": "quantitative", "axis": {"orient": "top", "values": [0.02,0.04,0.06,0.08,0.1,0.12,0.14,0.16], "labels": false, "title": null}},
       "y": {"field": "y", "type": "quantitative", "axis": {"orient": "right", "values": [0,0.002,0.004,0.006,0.008,0.01,0.012,0.014,0.016,0.018,0.02], "labels": false, "title": null}},
       "order": {"value": null}
      }},
     {"data": {"values": [{"x": 0.0285, "y": 0.0184, "t": "(d)"}]},
      "mark": {"type": "text", "font": "Liberation Serif", "fontSize": 21, "fontStyle": "italic", "color": "#444"},
      "encoding": {"x": {"field": "x", "type": "quantitative", "axis": null}, "y": {"field": "y", "type": "quantitative", "axis": null}, "text": {"field": "t"}}}
    ]}
 ]
}
